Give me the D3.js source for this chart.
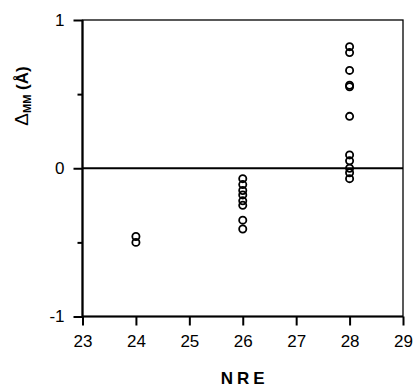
<!DOCTYPE html>
<html>
<head>
<meta charset="utf-8">
<script src="https://cdn.jsdelivr.net/npm/d3@7"></script>
<style>
  body { margin: 0; background: #fff; }
  svg text { font-family: "Liberation Sans", Arial, sans-serif; fill: #000; }
</style>
</head>
<body>
<script>
// NRE value for each column of points
const nre = [24, 26, 28];
// Delta MM values (Å) per column
const dmm24 = [-0.46, -0.50];
const dmm26 = [-0.07, -0.11, -0.15, -0.18, -0.22, -0.25, -0.35, -0.41];
const dmm28 = [0.82, 0.78, 0.66, 0.56, 0.55, 0.35, 0.09, 0.05, 0.0, -0.03, -0.07];
const xTicks = [23, 24, 25, 26, 27, 28, 29];
const yTicks = [-1, 0, 1];
const yMinor = [-0.5, 0.5];

const w = 414, h = 391;
const m = {left: 82.5, right: 11, top: 20, bottom: 74.5};

var pts = [];
[dmm24, dmm26, dmm28].forEach(function (arr, i) {
    arr.forEach(function (v) { pts.push([nre[i], v]); });
});

var svg = d3.select("body").append("svg")
    .attr("width", w)
    .attr("height", h);

var x = d3.scaleLinear().domain([23, 29]).range([m.left, w - m.right]);
var y = d3.scaleLinear().domain([-1, 1]).range([h - m.bottom, m.top]);

// frame
svg.append("rect")
    .attr("x", x(23)).attr("y", y(1))
    .attr("width", x(29) - x(23)).attr("height", y(-1) - y(1))
    .attr("fill", "none").attr("stroke", "#000").attr("stroke-width", 1.3);
// left + bottom axis lines heavier
svg.append("path")
    .attr("d", "M" + x(23) + "," + y(1) + "V" + y(-1) + "H" + x(29))
    .attr("fill", "none").attr("stroke", "#000").attr("stroke-width", 2.2);
// zero line
svg.append("line")
    .attr("x1", x(23)).attr("x2", x(29))
    .attr("y1", y(0)).attr("y2", y(0))
    .attr("stroke", "#000").attr("stroke-width", 2);

var fmt = function (d) { return String(d); };   // plain hyphen minus, like the original

svg.append("g")
    .attr("transform", "translate(0," + y(-1) + ")")
    .call(d3.axisBottom(x).tickValues(xTicks).tickFormat(fmt).tickSize(9).tickPadding(9));
svg.append("g")
    .attr("transform", "translate(" + x(23) + ",0)")
    .call(d3.axisLeft(y).tickValues(yTicks).tickFormat(fmt).tickSize(9).tickPadding(9));
svg.append("g")
    .attr("transform", "translate(" + x(23) + ",0)")
    .call(d3.axisLeft(y).tickValues(yMinor).tickFormat("").tickSize(5));

svg.selectAll(".domain").remove();
svg.selectAll(".tick line").attr("stroke", "#000").attr("stroke-width", 2);
svg.selectAll(".tick text").style("font-size", "17px");

// points
svg.append("g").selectAll("circle").data(pts).enter().append("circle")
    .attr("cx", function (d) { return x(d[0]); })
    .attr("cy", function (d) { return y(d[1]); })
    .attr("r", 3.6)
    .attr("fill", "none")
    .attr("stroke", "#000")
    .attr("stroke-width", 1.8);

// axis titles
svg.append("text")
    .attr("x", (x(23) + x(29)) / 2 + 2)
    .attr("y", 384)
    .attr("text-anchor", "middle")
    .style("font-size", "17px").style("font-weight", "bold").style("letter-spacing", "4px")
    .text("NRE");

var yl = svg.append("text")
    .attr("transform", "translate(28,96) rotate(-90)")
    .attr("text-anchor", "middle")
    .style("font-size", "17px").style("font-weight", "bold");
yl.append("tspan").style("font-weight", "normal").style("font-size", "19px").text("\u0394");
yl.append("tspan").attr("dy", 3).style("font-size", "11px").text("MM");
yl.append("tspan").attr("dy", -3).text(" (\u00C5)");
</script>
</body>
</html>
